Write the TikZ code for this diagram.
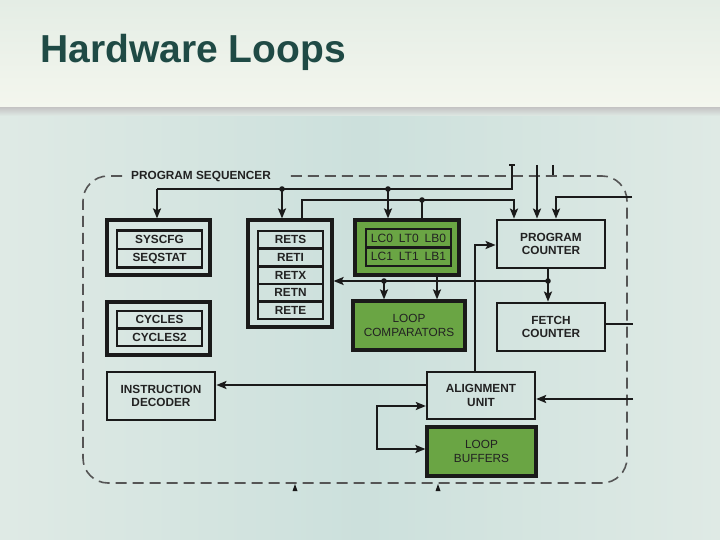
\documentclass[tikz,border=0pt]{standalone}
\usepackage{fontspec}
\setmainfont{Liberation Sans}
\usetikzlibrary{arrows.meta,calc}
\definecolor{titlec}{HTML}{1F4A45}
\definecolor{boxc}{HTML}{1A1A1A}
\definecolor{textc}{HTML}{222222}
\definecolor{greenc}{HTML}{6AA544}
\definecolor{dashc}{HTML}{555555}
\definecolor{bgA}{HTML}{DFEAE5}
\definecolor{bgB}{HTML}{CCE0DC}
\definecolor{bandA}{HTML}{E4EDE5}
\definecolor{bandB}{HTML}{F4F6EE}
\tikzset{
  sz/.style 2 args={minimum width=#1pt, minimum height=#2pt},
  box/.style={draw=boxc, line width=2.8pt, inner sep=0pt, align=center, text=textc,
    font=\fontsize{11.8}{13.8}\selectfont\bfseries},
  gbox/.style={box, fill=greenc, font=\fontsize{11.8}{13.8}\selectfont},
  outerbox/.style={draw=boxc, line width=3.2pt, inner sep=0pt},
  rowbox/.style={box, line width=2.6pt},
  bus/.style={draw=boxc, line width=2.6pt},
  thinbus/.style={draw=boxc, line width=2pt},
  >={Stealth[length=10pt,width=8pt,inset=2pt]},
}
\begin{document}
\begin{tikzpicture}[x=1pt,y=-1pt]
\useasboundingbox (0,0) rectangle (720,540);
% background
\shade[left color=bgA, right color=bgA, middle color=bgB] (0,108) rectangle (720,540);
\shade[top color=bandA, bottom color=bandB] (0,0) rectangle (720,108);
\shade[top color=black!22, bottom color=bgA] (0,108) rectangle (720,116);
\node[anchor=base west, text=titlec, font=\fontsize{39}{44}\selectfont\bfseries, inner sep=0pt] (title) at (40,63) {Hardware Loops};

% dashed program sequencer outline
\draw[dashc, line width=1.6pt, dash pattern=on 11pt off 6pt, rounded corners=25pt]
  (122,176) -- (83,176) -- (83,483) -- (627,483) -- (627,176) -- (287,176);
\node[anchor=west, inner sep=0pt, text=textc, font=\fontsize{11.8}{13}\selectfont\bfseries] (seqlbl) at (131,177) {PROGRAM SEQUENCER};

% SYSCFG group
\node[outerbox, sz={103}{55}] (sys) at (158.5,247.5) {};
\node[rowbox, sz={85}{18.5}] (sys1) at (159.5,239.75) {SYSCFG};
\node[rowbox, sz={85}{18.5}] (sys2) at (159.5,258.25) {SEQSTAT};

% CYCLES group
\node[outerbox, sz={103}{53}] (cyc) at (158.5,328.5) {};
\node[rowbox, sz={85}{17.5}] (cyc1) at (159.5,319.75) {CYCLES};
\node[rowbox, sz={85}{17.5}] (cyc2) at (159.5,337.25) {CYCLES2};

% RETS group
\node[outerbox, sz={84}{107}] (ret) at (290,273.5) {};
\node[rowbox, sz={65}{17.6}] (ret1) at (290.5,239.8) {RETS};
\node[rowbox, sz={65}{17.6}] (ret2) at (290.5,257.4) {RETI};
\node[rowbox, sz={65}{17.6}] (ret3) at (290.5,275.0) {RETX};
\node[rowbox, sz={65}{17.6}] (ret4) at (290.5,292.6) {RETN};
\node[rowbox, sz={65}{17.6}] (ret5) at (290.5,310.2) {RETE};

% loop registers (green)
\node[outerbox, fill=greenc, sz={104}{55}] (lc) at (407,247.5) {};
\node[gbox, line width=2.4pt, sz={85}{18.5}, font=\fontsize{12}{14}\selectfont] (lc1) at (408.5,238.25) {LC0\hspace{6pt}LT0\hspace{6pt}LB0};
\node[gbox, line width=2.4pt, sz={85}{18.5}, font=\fontsize{12}{14}\selectfont] (lc2) at (408.5,256.75) {LC1\hspace{6pt}LT1\hspace{6pt}LB1};

\node[gbox, line width=3.2pt, sz={112}{49}] (cmp) at (409,325.5) {LOOP\\COMPARATORS};
\node[box, sz={108}{48}] (pc) at (551,244) {PROGRAM\\COUNTER};
\node[box, sz={108}{48}] (fc) at (551,327) {FETCH\\COUNTER};
\node[box, sz={108}{48}] (id) at (161,396) {INSTRUCTION\\DECODER};
\node[box, line width=2.3pt, sz={108}{47}] (au) at (481,395.5) {ALIGNMENT\\UNIT};
\node[gbox, line width=3.2pt, sz={109}{49}] (lb) at (481.5,451.5) {LOOP\\BUFFERS};

% bus A (y=189)
\coordinate (aTop) at (512,165);
\coordinate (aR) at (512,189);
\coordinate (aL) at (157,189);
\coordinate (aD1) at (282,189);
\coordinate (aD2) at (388,189);
\draw[bus] (509,165) -- (515,165);
\draw[bus] (aTop) -- (aR) -- (aL);
\draw[bus,->] (aL) -- (aL |- sys.north);
\draw[bus,->] (aD1) -- (aD1 |- ret.north);
\draw[bus,->] (aD2) -- (aD2 |- lc.north);
\fill[boxc] (aD1) circle (2.8pt) (aD2) circle (2.8pt);

% bus B (y=200)
\coordinate (bL) at (302,200);
\coordinate (bR) at (514,200);
\coordinate (bD) at (422,200);
\draw[bus,->] (bL |- ret.north) -- (bL) -- (bR) -- (bR |- pc.north);
\draw[bus] (bD |- lc.north) -- (bD);
\fill[boxc] (bD) circle (2.8pt);

% other inputs to program counter
\coordinate (cTop) at (537,165);
\draw[bus,->] (cTop) -- (cTop |- pc.north);
\coordinate (dTop) at (553,165);
\draw[bus] (dTop) -- (553,175);
\coordinate (eR) at (632,197);
\coordinate (eL) at (556,197);
\draw[bus,->] (eR) -- (eL) -- (eL |- pc.north);

% PC -> fetch counter and bus y=281
\coordinate (fD) at (548,281);
\coordinate (fL) at (384,281);
\draw[bus,->] (fD |- pc.south) -- (fD |- fc.north);
\draw[bus,->] (fD) -- (fD -| ret.east);
\draw[bus,->] (fL) -- (fL |- cmp.north);
\fill[boxc] (fD) circle (2.8pt) (fL) circle (2.8pt);
\coordinate (gX) at (437,0);
\draw[bus,->] (gX |- lc.south) -- (gX |- cmp.north);

% alignment unit -> program counter
\coordinate (hT) at (475,245);
\draw[thinbus,->] (hT |- au.north) -- (hT) -- (hT -| pc.west);

% alignment unit -> instruction decoder
\coordinate (iY) at (0,385);
\draw[thinbus,->] (au.west |- iY) -- (id.east |- iY);

% alignment unit <-> loop buffers
\coordinate (jT) at (377,406);
\coordinate (jB) at (377,449);
\draw[thinbus,<->] (au.west |- jT) -- (jT) -- (jB) -- (lb.west |- jB);

% right side external lines
\coordinate (kR) at (633,399);
\draw[bus,->] (kR) -- (kR -| au.east);
\coordinate (lR) at (633,324);
\draw[bus] (fc.east |- lR) -- (lR);

% small arrowheads below the outline
\fill[boxc] (292.5,491) -- (295,484) -- (297.5,491) -- cycle;
\fill[boxc] (435.5,491) -- (438,484) -- (440.5,491) -- cycle;
\end{tikzpicture}
\end{document}
